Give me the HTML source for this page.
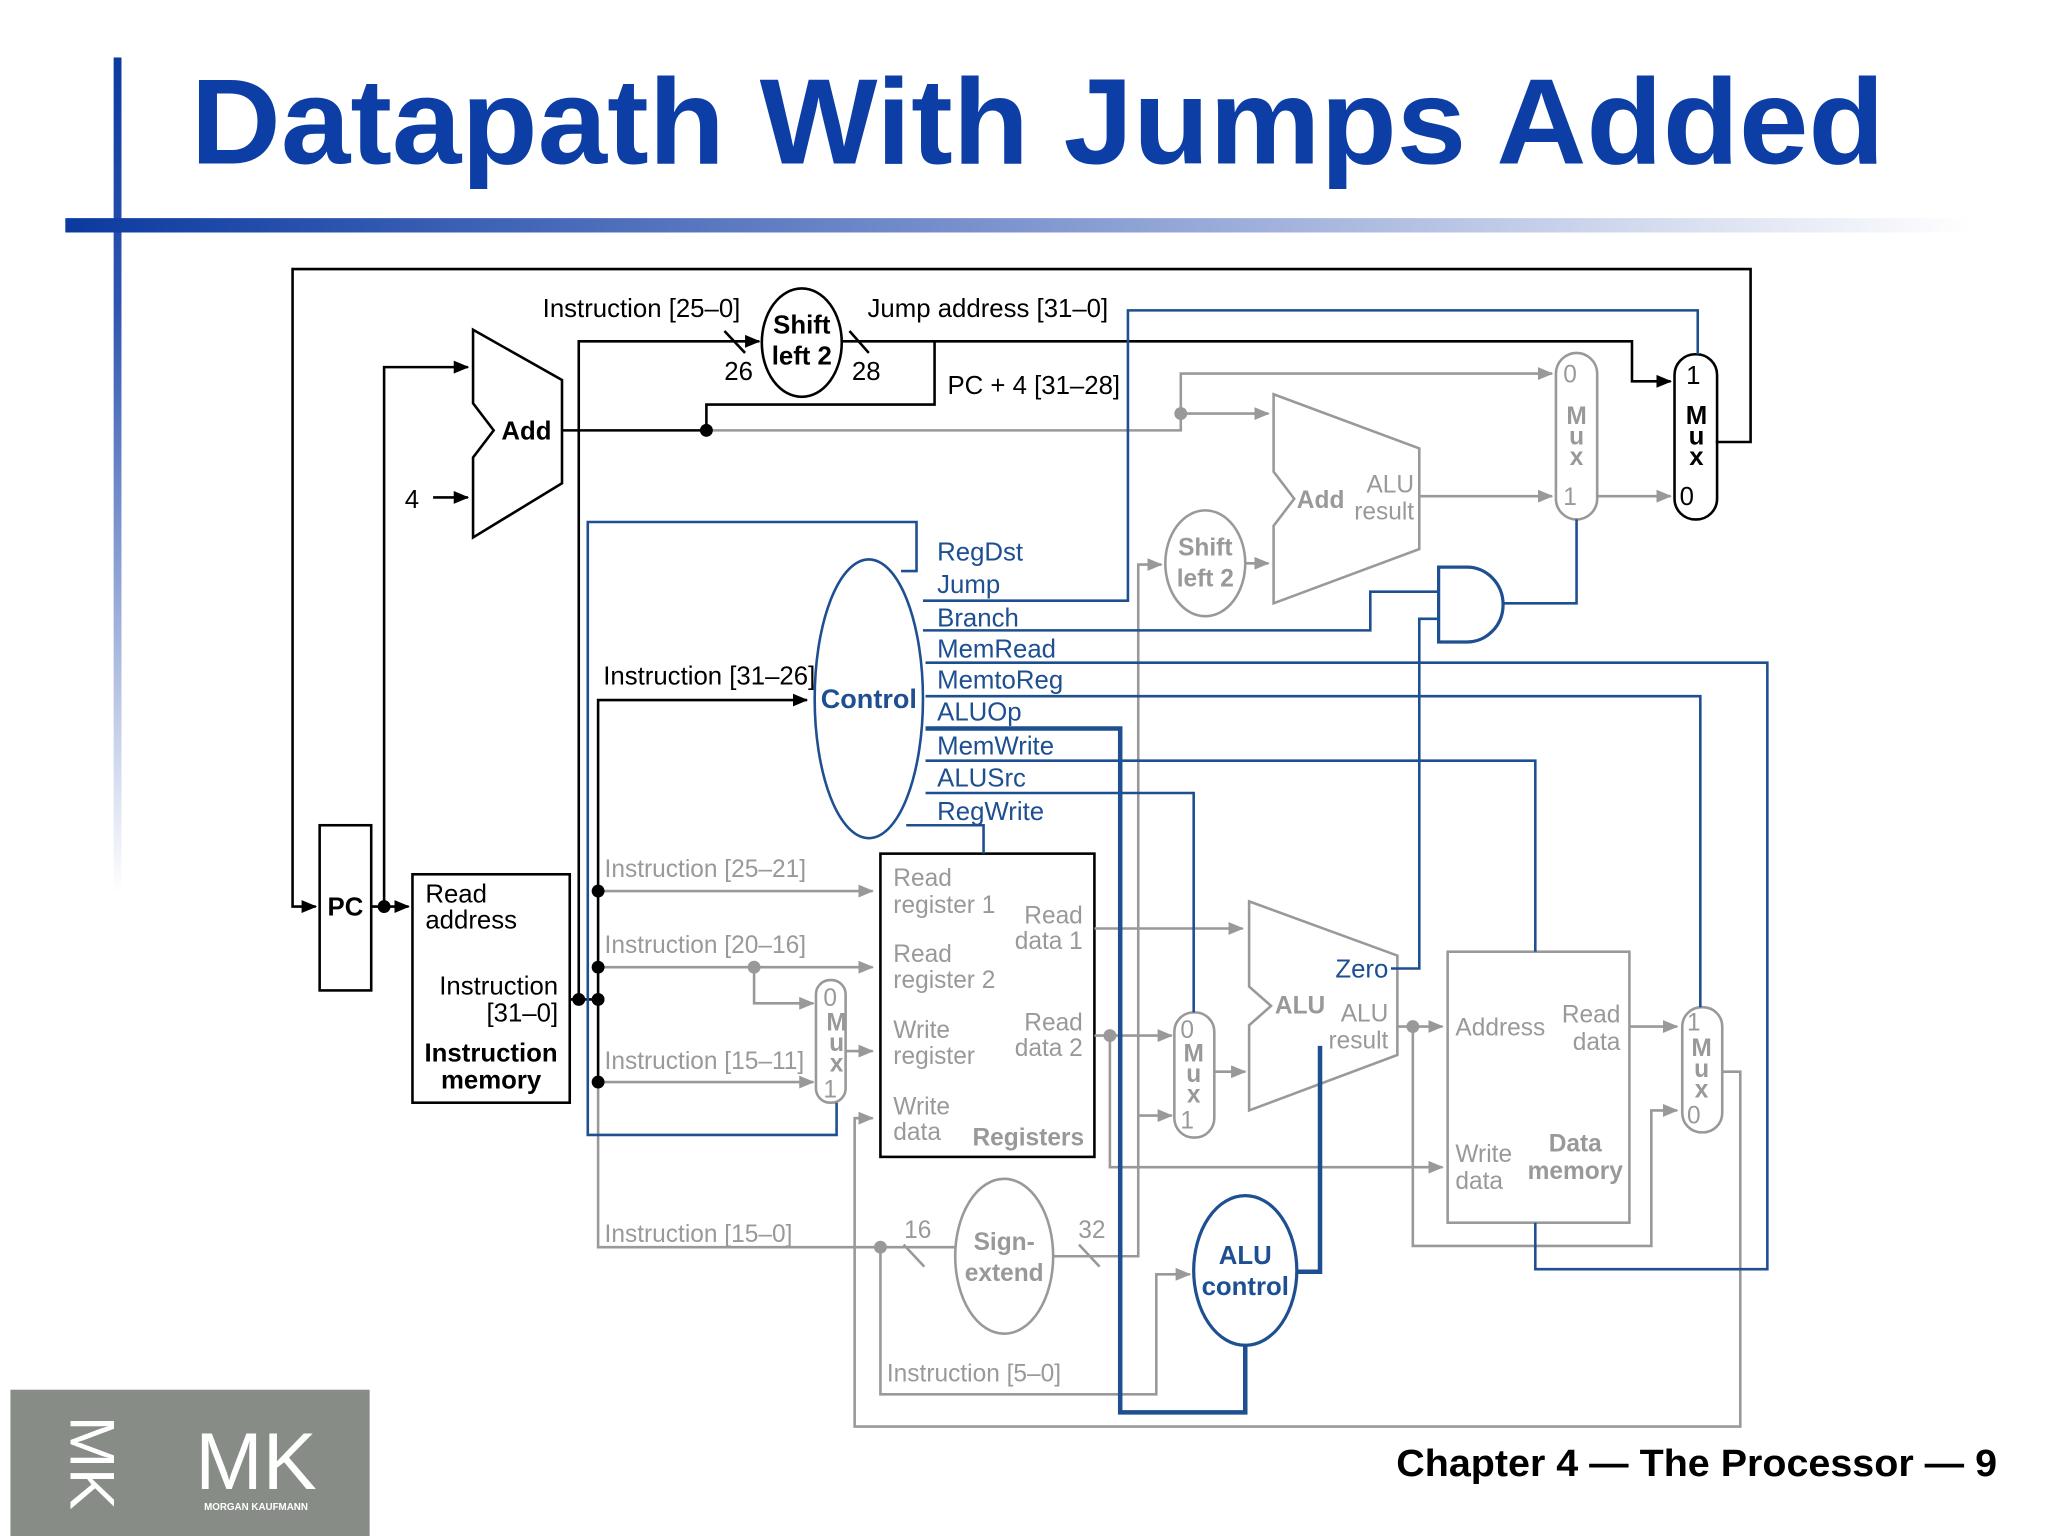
<!DOCTYPE html>
<html><head><meta charset="utf-8"><style>
html,body{margin:0;padding:0;background:#fff;}
svg{display:block;}
text{font-family:"Liberation Sans",Arial,sans-serif;}
</style></head><body>
<svg width="2048" height="1536" viewBox="0 0 1552 1176" xmlns="http://www.w3.org/2000/svg">
<defs>
<linearGradient id="hg" x1="0" x2="1" y1="0" y2="0"><stop offset="0" stop-color="#0b3aa0"/><stop offset="0.5" stop-color="#7f95cf"/><stop offset="1" stop-color="#fff"/></linearGradient>
<linearGradient id="vg" x1="0" x2="0" y1="0" y2="1"><stop offset="0" stop-color="#0b3aa0"/><stop offset="0.3" stop-color="#2f55b0"/><stop offset="1" stop-color="#fff"/></linearGradient>
<marker id="ak" markerWidth="12" markerHeight="10" refX="11" refY="5" orient="auto" markerUnits="userSpaceOnUse"><path d="M0,0 L12,5 L0,10 Z" fill="#000"/></marker>
<marker id="ag" markerWidth="12" markerHeight="10" refX="11" refY="5" orient="auto" markerUnits="userSpaceOnUse"><path d="M0,0 L12,5 L0,10 Z" fill="#999"/></marker>
</defs>
<rect width="1552" height="1176" fill="#fff"/>
<rect x="79" y="44" width="6" height="640" fill="url(#vg)"/>
<rect x="42" y="167" width="1460" height="11" fill="url(#hg)"/>
<text x="138" y="125" font-size="93" font-weight="bold" fill="#0d3ea6" textLength="1297" lengthAdjust="spacingAndGlyphs">Datapath With Jumps Added</text>
<rect x="0" y="1064" width="275" height="112" fill="#878c86"/>
<text x="46" y="1120" font-size="48" fill="#fff" transform="rotate(90 46 1120)" text-anchor="middle">MK</text>
<text x="188" y="1140" font-size="62" fill="#fff" text-anchor="middle">MK</text>
<text x="188" y="1156" font-size="7.5" font-weight="bold" fill="#fff" text-anchor="middle">MORGAN KAUFMANN</text>
<text x="1061" y="1130" font-size="29" font-weight="bold" fill="#000" textLength="460" lengthAdjust="spacingAndGlyphs">Chapter 4 — The Processor — 9</text>

<g transform="translate(216,206) scale(0.987,0.988) translate(-216,-206)">
<g fill="none" stroke-width="2">
<g stroke="#000">
<path d="M1320,340 H1347 V206 H216 V700 H234" marker-end="url(#ak)"/>
<rect x="237" y="637" width="40" height="128"/>
<path d="M277,700 H306" marker-end="url(#ak)"/>
<path d="M287,700 V282 H352" marker-end="url(#ak)"/>
<polygon points="356,253 425,292 425,372 356,414 356,352 372,331 356,310"/>
<path d="M325,383 H352" marker-end="url(#ak)"/>
<path d="M425,331 H537 V311 H714 V262"/>
<path d="M438,772 V262 H578" marker-end="url(#ak)"/>
<path d="M642,262 H1255 V293 H1285" marker-end="url(#ak)"/>
<ellipse cx="611" cy="263" rx="31" ry="42"/>
<line x1="551" y1="254" x2="567" y2="271"/>
<line x1="648" y1="254" x2="663" y2="271"/>
<rect x="1288" y="272" width="33" height="128" rx="16"/>
<path d="M453,836 V540 H615" marker-end="url(#ak)"/>
<path d="M431,772 H453"/>
<rect x="309" y="675" width="122" height="177"/>
<rect x="672" y="659" width="166" height="235"/>
</g>
<g stroke="#999">
<path d="M537,331 H905 V287 H1193" marker-end="url(#ag)"/>
<path d="M905,318 H973" marker-end="url(#ag)"/>
<rect x="1196" y="271" width="32" height="129" rx="16"/>
<path d="M1090,382 H1193" marker-end="url(#ag)"/>
<path d="M1228,382 H1285" marker-end="url(#ag)"/>
<polygon points="977,303 1090,345 1090,423 977,465 977,405 993,384 977,363"/>
<ellipse cx="924" cy="434" rx="31" ry="41"/>
<path d="M955,434 H973" marker-end="url(#ag)"/>
<path d="M806,971 H872 V435 H890" marker-end="url(#ag)"/>
<path d="M872,862 H898" marker-end="url(#ag)"/>
<path d="M453,688 H666" marker-end="url(#ag)"/>
<path d="M453,747 H666" marker-end="url(#ag)"/>
<path d="M574,747 V775 H620" marker-end="url(#ag)"/>
<path d="M453,836 H620" marker-end="url(#ag)"/>
<rect x="622" y="757" width="23" height="95" rx="11"/>
<path d="M645,812 H666" marker-end="url(#ag)"/>
<path d="M453,836 V964 H731"/>
<path d="M672,964 V1078 H886 V985 H912" marker-end="url(#ag)"/>
<path d="M1325,828 H1339 V1103 H652 V864 H666" marker-end="url(#ag)"/>
<path d="M838,717 H953" marker-end="url(#ag)"/>
<path d="M838,800 H898" marker-end="url(#ag)"/>
<path d="M850,800 V902 H1108" marker-end="url(#ag)"/>
<rect x="900" y="782" width="31" height="97" rx="15"/>
<path d="M931,828 H955" marker-end="url(#ag)"/>
<polygon points="958,696 1073,738 1073,815 958,858 958,792 975,777 958,762"/>
<path d="M1073,793 H1108" marker-end="url(#ag)"/>
<path d="M1085,793 V963 H1270 V858 H1290" marker-end="url(#ag)"/>
<rect x="1112" y="735" width="141" height="210"/>
<path d="M1253,793 H1290" marker-end="url(#ag)"/>
<rect x="1294" y="778" width="31" height="97" rx="15"/>
<ellipse cx="768" cy="971" rx="38" ry="60"/>
<line x1="690" y1="962" x2="706" y2="979"/>
<line x1="826" y1="962" x2="842" y2="979"/>
</g>
<g stroke="#1d4f91">
<path d="M705,463 H864 V238 H1306 V272"/>
<path d="M1212,400 V465 H1155"/>
<path d="M1105,437 H1127 A28 29 0 0 1 1127,495 H1105 Z" stroke-width="2.5"/>
<path d="M705,486 H1052 V456 H1105"/>
<path d="M1068,748 H1090 V477 H1105"/>
<ellipse cx="663" cy="539" rx="42" ry="108"/>
<path d="M688,440 H700 V402 H445 V877 H638 V852"/>
<path d="M707,511 H1360 V981 H1180 V945"/>
<path d="M707,537 H1308 V778"/>
<path d="M707,562 H858 V1092 H955 V1040" stroke-width="3.5"/>
<path d="M707,587 H1180 V735"/>
<path d="M707,612 H915 V782"/>
<path d="M692,637 H752 V659"/>
<path d="M995,983 H1013 V808" stroke-width="3.5"/>
<ellipse cx="955" cy="982" rx="40" ry="58" stroke-width="2.5"/>
</g>
</g>
<g fill="#000">
<circle cx="287" cy="700" r="5"/><circle cx="537" cy="331" r="5"/>
<circle cx="438" cy="772" r="5"/><circle cx="453" cy="772" r="5"/>
<circle cx="453" cy="688" r="5"/><circle cx="453" cy="747" r="5"/><circle cx="453" cy="836" r="5"/>
</g>
<g fill="#999">
<circle cx="905" cy="318" r="5"/><circle cx="574" cy="747" r="5"/><circle cx="850" cy="800" r="5"/>
<circle cx="1085" cy="793" r="5"/><circle cx="672" cy="964" r="5"/>
</g>
<g font-size="20" fill="#000">
<text x="378" y="338" font-weight="bold">Add</text>
<text x="303" y="391">4</text>
<text x="257" y="707" font-weight="bold" text-anchor="middle">PC</text>
<text x="410" y="243">Instruction [25–0]</text>
<text x="662" y="243">Jump address [31–0]</text>
<text x="724" y="303">PC + 4 [31–28]</text>
<text x="562" y="292" text-anchor="middle">26</text>
<text x="661" y="292" text-anchor="middle">28</text>
<text x="611" y="256" font-weight="bold" text-anchor="middle">Shift</text>
<text x="611" y="280" font-weight="bold" text-anchor="middle">left 2</text>
<text x="1297" y="295">1</text>
<text x="1305" y="326" font-weight="bold" text-anchor="middle">M</text>
<text x="1305" y="342" font-weight="bold" text-anchor="middle">u</text>
<text x="1305" y="358" font-weight="bold" text-anchor="middle">x</text>
<text x="1292" y="389">0</text>
<text x="457" y="528">Instruction [31–26]</text>
<text x="319" y="697">Read</text>
<text x="319" y="717">address</text>
<text x="422" y="768" text-anchor="end">Instruction</text>
<text x="422" y="789" text-anchor="end">[31–0]</text>
<text x="370" y="820" font-weight="bold" text-anchor="middle">Instruction</text>
<text x="370" y="841" font-weight="bold" text-anchor="middle">memory</text>
</g>
<g font-size="19" fill="#999">
<text x="1207" y="294" text-anchor="middle">0</text>
<text x="1212" y="326" font-weight="bold" text-anchor="middle">M</text>
<text x="1212" y="342" font-weight="bold" text-anchor="middle">u</text>
<text x="1212" y="358" font-weight="bold" text-anchor="middle">x</text>
<text x="1207" y="389" text-anchor="middle">1</text>
<text x="995" y="391" font-weight="bold">Add</text>
<text x="1086" y="379" text-anchor="end">ALU</text>
<text x="1086" y="400" text-anchor="end">result</text>
<text x="924" y="428" font-weight="bold" text-anchor="middle">Shift</text>
<text x="924" y="452" font-weight="bold" text-anchor="middle">left 2</text>
<text x="458" y="677">Instruction [25–21]</text>
<text x="458" y="736">Instruction [20–16]</text>
<text x="458" y="826">Instruction [15–11]</text>
<text x="458" y="960">Instruction [15–0]</text>
<text x="677" y="1068">Instruction [5–0]</text>
<text x="633" y="777" text-anchor="middle">0</text>
<text x="638" y="796" font-weight="bold" text-anchor="middle">M</text>
<text x="638" y="812" font-weight="bold" text-anchor="middle">u</text>
<text x="638" y="828" font-weight="bold" text-anchor="middle">x</text>
<text x="633" y="848" text-anchor="middle">1</text>
<text x="682" y="684">Read</text>
<text x="682" y="705">register 1</text>
<text x="682" y="743">Read</text>
<text x="682" y="763">register 2</text>
<text x="682" y="802">Write</text>
<text x="682" y="822">register</text>
<text x="682" y="861">Write</text>
<text x="682" y="881">data</text>
<text x="829" y="713" text-anchor="end">Read</text>
<text x="829" y="733" text-anchor="end">data 1</text>
<text x="829" y="796" text-anchor="end">Read</text>
<text x="829" y="816" text-anchor="end">data 2</text>
<text x="830" y="885" font-weight="bold" text-anchor="end">Registers</text>
<text x="910" y="802" text-anchor="middle">0</text>
<text x="915" y="820" font-weight="bold" text-anchor="middle">M</text>
<text x="915" y="836" font-weight="bold" text-anchor="middle">u</text>
<text x="915" y="852" font-weight="bold" text-anchor="middle">x</text>
<text x="910" y="872" text-anchor="middle">1</text>
<text x="978" y="783" font-weight="bold">ALU</text>
<text x="1066" y="789" text-anchor="end">ALU</text>
<text x="1066" y="810" text-anchor="end">result</text>
<text x="1118" y="800">Address</text>
<text x="1246" y="790" text-anchor="end">Read</text>
<text x="1246" y="811" text-anchor="end">data</text>
<text x="1118" y="898">Write</text>
<text x="1118" y="919">data</text>
<text x="1211" y="890" font-weight="bold" text-anchor="middle">Data</text>
<text x="1211" y="911" font-weight="bold" text-anchor="middle">memory</text>
<text x="1303" y="796" text-anchor="middle">1</text>
<text x="1309" y="816" font-weight="bold" text-anchor="middle">M</text>
<text x="1309" y="832" font-weight="bold" text-anchor="middle">u</text>
<text x="1309" y="848" font-weight="bold" text-anchor="middle">x</text>
<text x="1303" y="868" text-anchor="middle">0</text>
<text x="768" y="966" font-weight="bold" text-anchor="middle">Sign-</text>
<text x="768" y="990" font-weight="bold" text-anchor="middle">extend</text>
<text x="701" y="957" text-anchor="middle">16</text>
<text x="836" y="957" text-anchor="middle">32</text>
</g>
<g font-size="20" fill="#1d4f91">
<text x="716" y="432">RegDst</text>
<text x="716" y="457">Jump</text>
<text x="716" y="483">Branch</text>
<text x="716" y="507">MemRead</text>
<text x="716" y="531">MemtoReg</text>
<text x="716" y="556">ALUOp</text>
<text x="716" y="582">MemWrite</text>
<text x="716" y="607">ALUSrc</text>
<text x="716" y="633">RegWrite</text>
<text x="663" y="546" font-size="21" font-weight="bold" text-anchor="middle">Control</text>
<text x="1066" y="755" text-anchor="end">Zero</text>
<text x="955" y="977" font-weight="bold" text-anchor="middle">ALU</text>
<text x="955" y="1001" font-weight="bold" text-anchor="middle">control</text>
</g>
</g>
</svg>
</body></html>
